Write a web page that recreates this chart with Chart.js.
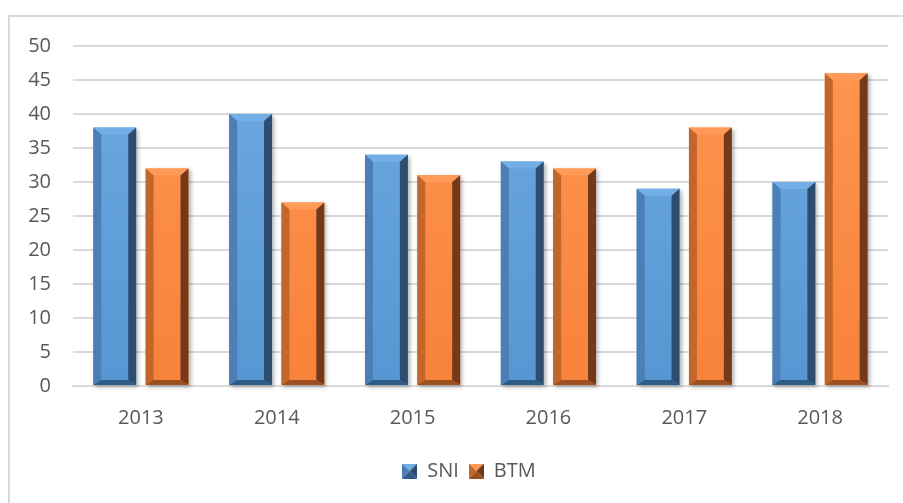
<!DOCTYPE html>
<html>
<head>
<meta charset="utf-8">
<script src="https://cdn.jsdelivr.net/npm/chart.js@4.4.0/dist/chart.umd.min.js"></script>
<style>
    html, body { margin: 0; padding: 0; background: #fff; }
</style>
</head>
<body>
<canvas id="barChart" width="903" height="503"></canvas>
<script>
const labels = ['2013', '2014', '2015', '2016', '2017', '2018'];
const sniValues = [38, 40, 34, 33, 29, 30];
const btmValues = [32, 27, 31, 32, 38, 46];
const seriesNames = ['SNI', 'BTM'];

// bevel shades for each series
const shades = [
    { faceTop: '#6eaae3', faceBottom: '#5796d2', top: '#73aee6', left: '#4b7fb6', right: '#2c4d6f', bottom: '#2f5b88' },
    { faceTop: '#ff9650', faceBottom: '#f8823a', top: '#ff9a58', left: '#c2662b', right: '#73391a', bottom: '#9c4f1f' }
];

const poly = (ctx, pts, color) => {
    ctx.beginPath();
    ctx.moveTo(pts[0][0], pts[0][1]);
    pts.slice(1).forEach(p => ctx.lineTo(p[0], p[1]));
    ctx.closePath();
    ctx.fillStyle = color;
    ctx.fill();
};

const barBox = (bar) => {
    const { x, y, base, width } = bar.getProps(['x', 'y', 'base', 'width'], true);
    return { L: x - width / 2, R: x + width / 2, T: y, B: base };
};

const bevelPlugin = {
    id: 'bevel',
    afterLayout(chart) {
        // legend sits a bit right of centre in the original
        chart.legend.left += 25;
        chart.legend.right += 25;
    },
    beforeDraw(chart) {
        // outer chart frame
        const ctx = chart.ctx;
        ctx.save();
        ctx.strokeStyle = '#d9d9d9';
        ctx.lineWidth = 2;
        ctx.beginPath();
        ctx.moveTo(9, 503);
        ctx.lineTo(9, 16);
        ctx.lineTo(903, 16);
        ctx.stroke();
        ctx.restore();
    },
    beforeDatasetsDraw(chart) {
        const ctx = chart.ctx;
        ctx.save();
        ctx.shadowColor = 'rgba(0,0,0,0.3)';
        ctx.shadowBlur = 4;
        ctx.shadowOffsetX = 2;
        ctx.shadowOffsetY = 2;
        chart.data.datasets.forEach((ds, i) => {
            chart.getDatasetMeta(i).data.forEach(bar => {
                const { L, R, T, B } = barBox(bar);
                ctx.fillStyle = '#fff';
                ctx.fillRect(L, T, R - L, B - T);
            });
        });
        ctx.restore();
    },
    afterDatasetsDraw(chart) {
        const ctx = chart.ctx;
        ctx.save();
        chart.data.datasets.forEach((ds, i) => {
            const sh = shades[i];
            chart.getDatasetMeta(i).data.forEach(bar => {
                const { L, R, T, B } = barBox(bar);
                const b = 8, t = 7, bb = 5;
                poly(ctx, [[L, T], [R, T], [R - b, T + t], [L + b, T + t]], sh.top);
                poly(ctx, [[L, T], [L + b, T + t], [L + b, B - bb], [L, B]], sh.left);
                poly(ctx, [[R, T], [R - b, T + t], [R - b, B - bb], [R, B]], sh.right);
                poly(ctx, [[L, B], [R, B], [R - b, B - bb], [L + b, B - bb]], sh.bottom);
            });
        });
        ctx.restore();
    }
};

const legendMarker = (sh) => {
    const c = document.createElement('canvas');
    c.width = 15;
    c.height = 15;
    const g = c.getContext('2d');
    poly(g, [[0, 0], [15, 0], [7.5, 7.5]], sh.top);
    poly(g, [[0, 0], [7.5, 7.5], [0, 15]], sh.left);
    poly(g, [[15, 0], [7.5, 7.5], [15, 15]], sh.right);
    poly(g, [[0, 15], [15, 15], [7.5, 7.5]], sh.bottom);
    return c;
};

const faceGradient = (i) => (context) => {
    const area = context.chart.chartArea;
    if (!area) return shades[i].faceBottom;
    const g = context.chart.ctx.createLinearGradient(0, area.top, 0, area.bottom);
    g.addColorStop(0, shades[i].faceTop);
    g.addColorStop(1, shades[i].faceBottom);
    return g;
};

const drawBarChart = () => {
    const ctx = document.getElementById('barChart');

    new Chart(ctx, {
        type: 'bar',
        data: {
            labels: labels,
            datasets: [
                { label: seriesNames[0], data: sniValues, backgroundColor: faceGradient(0), borderWidth: 0 },
                { label: seriesNames[1], data: btmValues, backgroundColor: faceGradient(1), borderWidth: 0 }
            ]
        },
        options: {
            responsive: false,
            devicePixelRatio: 1,
            animation: false,
            datasets: {
                bar: { categoryPercentage: 0.77, barPercentage: 0.82 }
            },
            layout: {
                padding: { top: 46, right: 15, bottom: 12, left: 0 }
            },
            scales: {
                y: {
                    min: 0,
                    max: 50,
                    ticks: {
                        stepSize: 5,
                        padding: 22,
                        color: '#595959',
                        font: { family: 'Open Sans', size: 20 }
                    },
                    grid: { color: '#d9d9d9', lineWidth: 2, drawTicks: false },
                    border: { display: false },
                    afterFit: (scale) => { scale.width = 73; }
                },
                x: {
                    ticks: {
                        padding: 20,
                        color: '#595959',
                        font: { family: 'Open Sans', size: 20 }
                    },
                    grid: { display: false, drawTicks: false },
                    border: { color: '#d9d9d9', width: 2 },
                    afterFit: (scale) => { scale.height = 65; }
                }
            },
            plugins: {
                legend: {
                    position: 'bottom',
                    labels: {
                        usePointStyle: true,
                        color: '#595959',
                        font: { family: 'Open Sans', size: 20 },
                        padding: 10,
                        boxWidth: 15,
                        boxHeight: 15,
                        generateLabels: (chart) => chart.data.datasets.map((ds, i) => ({
                            text: ds.label,
                            pointStyle: legendMarker(shades[i]),
                            fontColor: '#595959',
                            lineWidth: 0,
                            datasetIndex: i
                        }))
                    }
                },
                tooltip: { enabled: false }
            }
        },
        plugins: [bevelPlugin]
    });
};

drawBarChart();
</script>
</body>
</html>
